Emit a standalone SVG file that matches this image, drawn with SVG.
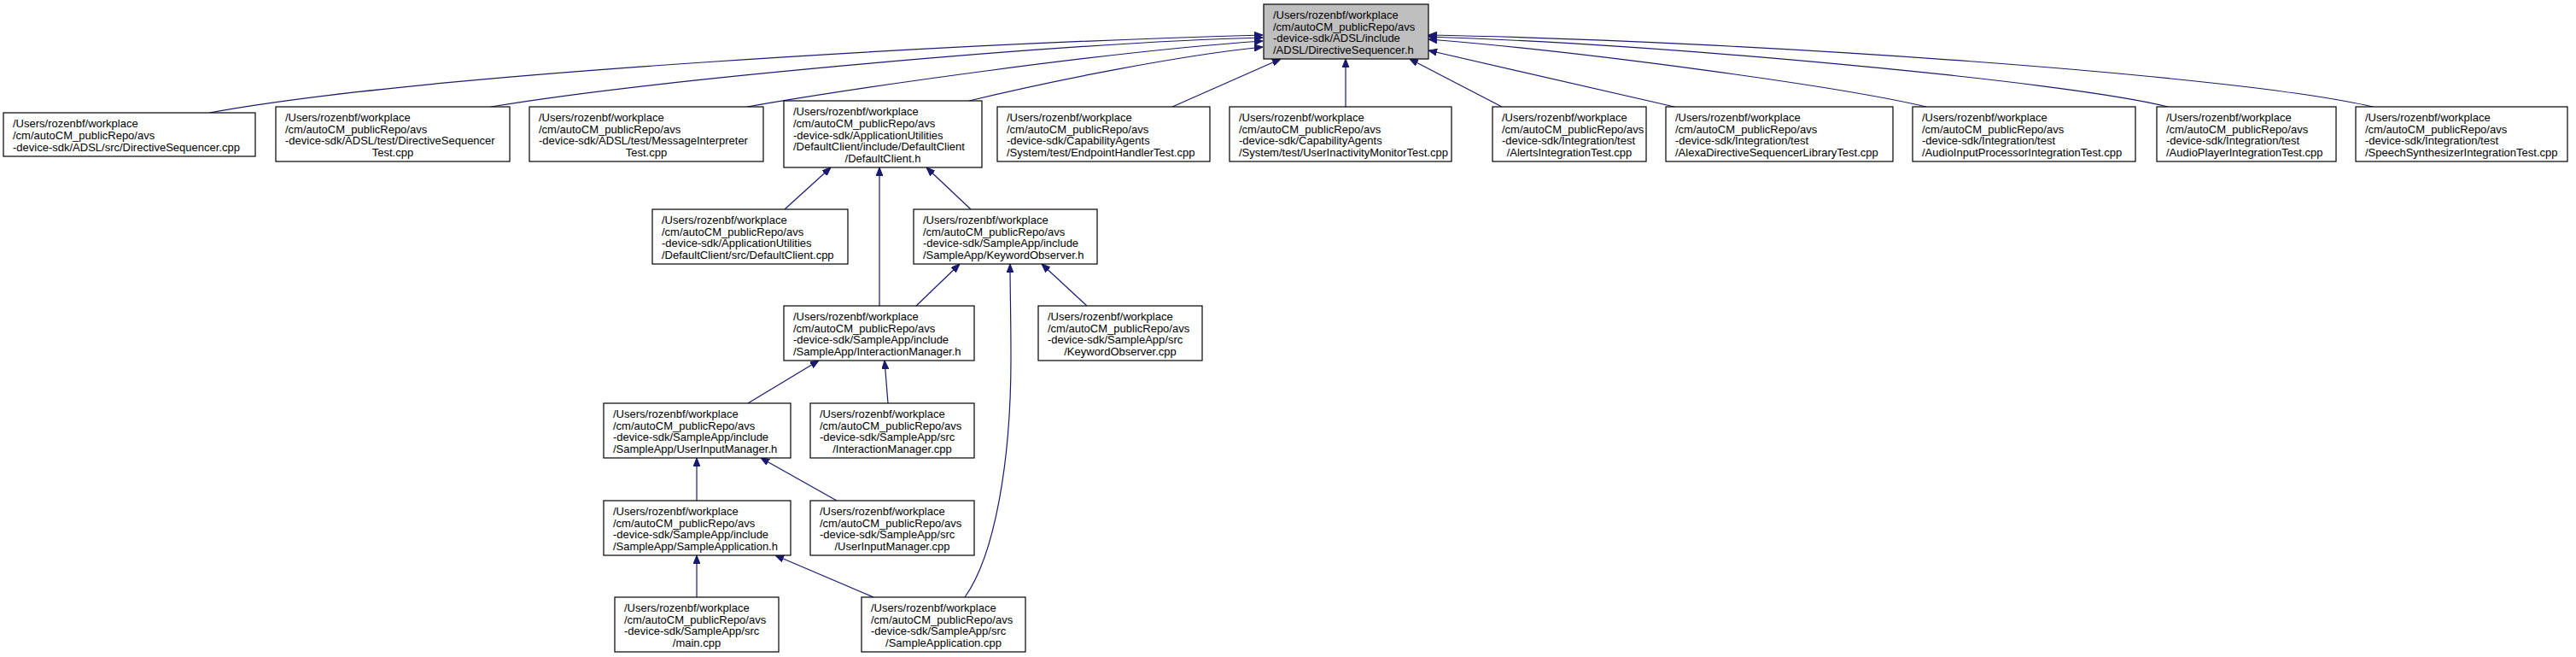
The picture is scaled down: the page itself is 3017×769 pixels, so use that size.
<svg xmlns="http://www.w3.org/2000/svg" width="3017" height="769" viewBox="0 0 3017 769">
<style>
.n rect{fill:#ffffff;stroke:#000000;stroke-width:1.2}
#root rect{fill:#bfbfbf}
.n text{font-family:"Liberation Sans",Arial,Helvetica,sans-serif;font-size:13px;fill:#000000}
.c{text-anchor:middle}
.e path{fill:none;stroke:#191970;stroke-width:1.2;marker-end:url(#ah)}
</style>
<defs>
<marker id="ah" viewBox="0 0 10 8" refX="10" refY="4" markerWidth="10" markerHeight="8" orient="auto" markerUnits="userSpaceOnUse">
<path d="M0,0 L10,4 L0,8 z" fill="#191970" stroke="#191970" stroke-width="1"/>
</marker>
</defs>
<rect width="3017" height="769" fill="#ffffff"/>
<g id="edges" class="e">
<path d="M245,132 C500,85 1150,50 1479,41"/>
<path d="M575,125 C775,92 1250,50 1479,44"/>
<path d="M875,125 C1000,103 1300,60 1479,48"/>
<path d="M1135,118 C1230,95 1380,65 1479,55"/>
<path d="M1373,125 L1500,69"/>
<path d="M1576,125 L1576,69"/>
<path d="M1759,125 L1651,69"/>
<path d="M1961,125 L1673,59"/>
<path d="M2256,125 C2150,100 1850,60 1673,46"/>
<path d="M2539,125 C2420,95 1950,52 1673,43"/>
<path d="M2779,125 C2620,88 2050,48 1673,41"/>
<path d="M919,245 L973,196"/>
<path d="M1030,358 L1030,196"/>
<path d="M1137,245 L1085,196"/>
<path d="M1073,358 L1124,309"/>
<path d="M1273,358 L1220,309"/>
<path d="M1130,699 C1165,650 1184,540 1184,420 C1184,370 1183,340 1183,309"/>
<path d="M876,472 L959,422"/>
<path d="M1040,472 L1036,422"/>
<path d="M816,586 L816,536"/>
<path d="M980,586 L891,536"/>
<path d="M816,699 L816,650"/>
<path d="M1023,699 L908,650"/>
</g>
<g id="root" class="n"><rect x="1480" y="5" width="193" height="64"/><text><tspan x="1491" y="21.8">/Users/rozenbf/workplace</tspan><tspan x="1491" y="35.6">/cm/autoCM_publicRepo/avs</tspan><tspan x="1491" y="49.4">-device-sdk/ADSL/include</tspan><tspan x="1491" y="63.2">/ADSL/DirectiveSequencer.h</tspan></text></g>
<g id="nA" class="n"><rect x="4" y="132" width="295" height="51"/><text><tspan x="15" y="149.2">/Users/rozenbf/workplace</tspan><tspan x="15" y="163">/cm/autoCM_publicRepo/avs</tspan><tspan x="15" y="176.8">-device-sdk/ADSL/src/DirectiveSequencer.cpp</tspan></text></g>
<g id="nB" class="n"><rect x="323" y="125" width="274" height="64"/><text><tspan x="334" y="141.8">/Users/rozenbf/workplace</tspan><tspan x="334" y="155.6">/cm/autoCM_publicRepo/avs</tspan><tspan x="334" y="169.4">-device-sdk/ADSL/test/DirectiveSequencer</tspan><tspan class="c" x="460" y="183.2">Test.cpp</tspan></text></g>
<g id="nC" class="n"><rect x="620" y="125" width="274" height="64"/><text><tspan x="631" y="141.8">/Users/rozenbf/workplace</tspan><tspan x="631" y="155.6">/cm/autoCM_publicRepo/avs</tspan><tspan x="631" y="169.4">-device-sdk/ADSL/test/MessageInterpreter</tspan><tspan class="c" x="757" y="183.2">Test.cpp</tspan></text></g>
<g id="nD" class="n"><rect x="918" y="118" width="232" height="78"/><text><tspan x="929" y="134.9">/Users/rozenbf/workplace</tspan><tspan x="929" y="148.7">/cm/autoCM_publicRepo/avs</tspan><tspan x="929" y="162.5">-device-sdk/ApplicationUtilities</tspan><tspan x="929" y="176.3">/DefaultClient/include/DefaultClient</tspan><tspan class="c" x="1034" y="190.1">/DefaultClient.h</tspan></text></g>
<g id="nE" class="n"><rect x="1168" y="125" width="249" height="64"/><text><tspan x="1179" y="141.8">/Users/rozenbf/workplace</tspan><tspan x="1179" y="155.6">/cm/autoCM_publicRepo/avs</tspan><tspan x="1179" y="169.4">-device-sdk/CapabilityAgents</tspan><tspan x="1179" y="183.2">/System/test/EndpointHandlerTest.cpp</tspan></text></g>
<g id="nF" class="n"><rect x="1440" y="125" width="260" height="64"/><text><tspan x="1451" y="141.8">/Users/rozenbf/workplace</tspan><tspan x="1451" y="155.6">/cm/autoCM_publicRepo/avs</tspan><tspan x="1451" y="169.4">-device-sdk/CapabilityAgents</tspan><tspan x="1451" y="183.2">/System/test/UserInactivityMonitorTest.cpp</tspan></text></g>
<g id="nG" class="n"><rect x="1748" y="125" width="180" height="64"/><text><tspan x="1759" y="141.8">/Users/rozenbf/workplace</tspan><tspan x="1759" y="155.6">/cm/autoCM_publicRepo/avs</tspan><tspan x="1759" y="169.4">-device-sdk/Integration/test</tspan><tspan class="c" x="1838" y="183.2">/AlertsIntegrationTest.cpp</tspan></text></g>
<g id="nH" class="n"><rect x="1951" y="125" width="266" height="64"/><text><tspan x="1962" y="141.8">/Users/rozenbf/workplace</tspan><tspan x="1962" y="155.6">/cm/autoCM_publicRepo/avs</tspan><tspan x="1962" y="169.4">-device-sdk/Integration/test</tspan><tspan x="1962" y="183.2">/AlexaDirectiveSequencerLibraryTest.cpp</tspan></text></g>
<g id="nI" class="n"><rect x="2240" y="125" width="261" height="64"/><text><tspan x="2251" y="141.8">/Users/rozenbf/workplace</tspan><tspan x="2251" y="155.6">/cm/autoCM_publicRepo/avs</tspan><tspan x="2251" y="169.4">-device-sdk/Integration/test</tspan><tspan x="2251" y="183.2">/AudioInputProcessorIntegrationTest.cpp</tspan></text></g>
<g id="nJ" class="n"><rect x="2526" y="125" width="210" height="64"/><text><tspan x="2537" y="141.8">/Users/rozenbf/workplace</tspan><tspan x="2537" y="155.6">/cm/autoCM_publicRepo/avs</tspan><tspan x="2537" y="169.4">-device-sdk/Integration/test</tspan><tspan x="2537" y="183.2">/AudioPlayerIntegrationTest.cpp</tspan></text></g>
<g id="nK" class="n"><rect x="2759" y="125" width="248" height="64"/><text><tspan x="2770" y="141.8">/Users/rozenbf/workplace</tspan><tspan x="2770" y="155.6">/cm/autoCM_publicRepo/avs</tspan><tspan x="2770" y="169.4">-device-sdk/Integration/test</tspan><tspan x="2770" y="183.2">/SpeechSynthesizerIntegrationTest.cpp</tspan></text></g>
<g id="nL" class="n"><rect x="764" y="245" width="229" height="64"/><text><tspan x="775" y="261.8">/Users/rozenbf/workplace</tspan><tspan x="775" y="275.6">/cm/autoCM_publicRepo/avs</tspan><tspan x="775" y="289.4">-device-sdk/ApplicationUtilities</tspan><tspan x="775" y="303.2">/DefaultClient/src/DefaultClient.cpp</tspan></text></g>
<g id="nM" class="n"><rect x="1070" y="245" width="215" height="64"/><text><tspan x="1081" y="261.8">/Users/rozenbf/workplace</tspan><tspan x="1081" y="275.6">/cm/autoCM_publicRepo/avs</tspan><tspan x="1081" y="289.4">-device-sdk/SampleApp/include</tspan><tspan x="1081" y="303.2">/SampleApp/KeywordObserver.h</tspan></text></g>
<g id="nN" class="n"><rect x="918" y="358" width="223" height="64"/><text><tspan x="929" y="374.8">/Users/rozenbf/workplace</tspan><tspan x="929" y="388.6">/cm/autoCM_publicRepo/avs</tspan><tspan x="929" y="402.4">-device-sdk/SampleApp/include</tspan><tspan x="929" y="416.2">/SampleApp/InteractionManager.h</tspan></text></g>
<g id="nO" class="n"><rect x="1216" y="358" width="192" height="64"/><text><tspan x="1227" y="374.8">/Users/rozenbf/workplace</tspan><tspan x="1227" y="388.6">/cm/autoCM_publicRepo/avs</tspan><tspan x="1227" y="402.4">-device-sdk/SampleApp/src</tspan><tspan class="c" x="1312" y="416.2">/KeywordObserver.cpp</tspan></text></g>
<g id="nP" class="n"><rect x="707" y="472" width="219" height="64"/><text><tspan x="718" y="488.8">/Users/rozenbf/workplace</tspan><tspan x="718" y="502.6">/cm/autoCM_publicRepo/avs</tspan><tspan x="718" y="516.4">-device-sdk/SampleApp/include</tspan><tspan x="718" y="530.2">/SampleApp/UserInputManager.h</tspan></text></g>
<g id="nQ" class="n"><rect x="949" y="472" width="192" height="64"/><text><tspan x="960" y="488.8">/Users/rozenbf/workplace</tspan><tspan x="960" y="502.6">/cm/autoCM_publicRepo/avs</tspan><tspan x="960" y="516.4">-device-sdk/SampleApp/src</tspan><tspan class="c" x="1045" y="530.2">/InteractionManager.cpp</tspan></text></g>
<g id="nR" class="n"><rect x="707" y="586" width="219" height="64"/><text><tspan x="718" y="602.8">/Users/rozenbf/workplace</tspan><tspan x="718" y="616.6">/cm/autoCM_publicRepo/avs</tspan><tspan x="718" y="630.4">-device-sdk/SampleApp/include</tspan><tspan x="718" y="644.2">/SampleApp/SampleApplication.h</tspan></text></g>
<g id="nS" class="n"><rect x="949" y="586" width="192" height="64"/><text><tspan x="960" y="602.8">/Users/rozenbf/workplace</tspan><tspan x="960" y="616.6">/cm/autoCM_publicRepo/avs</tspan><tspan x="960" y="630.4">-device-sdk/SampleApp/src</tspan><tspan class="c" x="1045" y="644.2">/UserInputManager.cpp</tspan></text></g>
<g id="nT" class="n"><rect x="720" y="699" width="192" height="64"/><text><tspan x="731" y="715.8">/Users/rozenbf/workplace</tspan><tspan x="731" y="729.6">/cm/autoCM_publicRepo/avs</tspan><tspan x="731" y="743.4">-device-sdk/SampleApp/src</tspan><tspan class="c" x="816" y="757.2">/main.cpp</tspan></text></g>
<g id="nU" class="n"><rect x="1009" y="699" width="192" height="64"/><text><tspan x="1020" y="715.8">/Users/rozenbf/workplace</tspan><tspan x="1020" y="729.6">/cm/autoCM_publicRepo/avs</tspan><tspan x="1020" y="743.4">-device-sdk/SampleApp/src</tspan><tspan class="c" x="1105" y="757.2">/SampleApplication.cpp</tspan></text></g>
</svg>
